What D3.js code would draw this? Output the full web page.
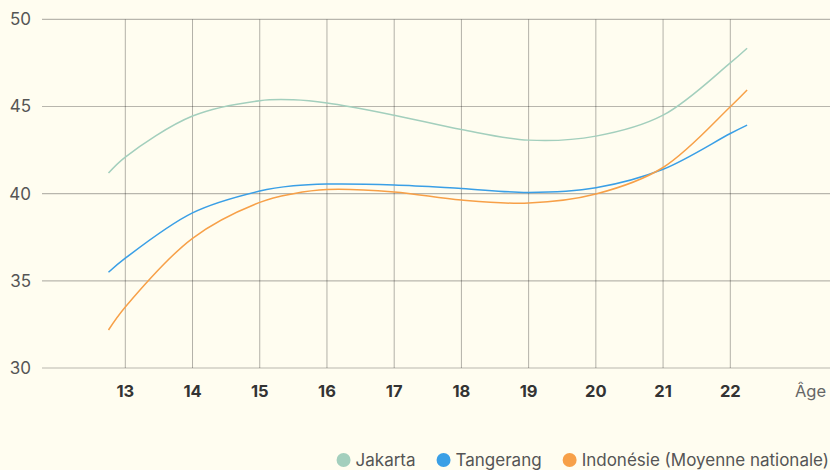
<!DOCTYPE html>
<html>
<head>
<meta charset="utf-8">
<script src="https://cdn.jsdelivr.net/npm/d3@7"></script>
<style>
  body { margin: 0; background: #fffdf0; }
  svg { display: block; font-family: Inter, "Noto Sans", sans-serif; }
</style>
</head>
<body>
<svg id="drawing_region"></svg>
<script>
// ages at which the curves are read
const ages = [12.75, 13, 14, 15, 15.5, 16, 17, 18, 19, 20, 21, 22, 22.25];
const jakarta   = [41.18, 42.1, 44.45, 45.33, 45.38, 45.2, 44.5, 43.68, 43.07, 43.3, 44.5, 47.5, 48.34];
const tangerang = [35.49, 36.3, 38.9, 40.15, 40.45, 40.55, 40.5, 40.3, 40.07, 40.34, 41.4, 43.45, 43.93];
const indonesie = [32.18, 33.5, 37.44, 39.5, 40.0, 40.24, 40.1, 39.63, 39.46, 39.98, 41.5, 44.98, 45.94];

const xticks = [13, 14, 15, 16, 17, 18, 19, 20, 21, 22];
const yticks = [30, 35, 40, 45, 50];

const series = [
    {name: 'Jakarta', values: jakarta, color: '#a3cfbd'},
    {name: 'Tangerang', values: tangerang, color: '#3a9fe6'},
    {name: 'Indonésie (Moyenne nationale)', values: indonesie, color: '#f7a048'}
];

const width = 830, height = 470;
const svg = d3.select('#drawing_region')
    .attr('width', width)
    .attr('height', height);

svg.append('rect')
    .attr('width', width).attr('height', height)
    .attr('fill', '#fffdf0');

const xscale = d3.scaleLinear().domain([13, 22]).range([125.3, 730.3]);
const yscale = d3.scaleLinear().domain([30, 50]).range([368, 19.3]);
const left = 42, right = 830;

// vertical grid
svg.append('g').selectAll('line')
    .data(xticks)
    .join('line')
    .attr('x1', d => xscale(d)).attr('x2', d => xscale(d))
    .attr('y1', yscale(50)).attr('y2', yscale(30))
    .attr('stroke', '#000').attr('stroke-opacity', 0.3).attr('stroke-width', 1);

// horizontal grid
svg.append('g').selectAll('line')
    .data(yticks)
    .join('line')
    .attr('x1', left).attr('x2', right)
    .attr('y1', d => yscale(d)).attr('y2', d => yscale(d))
    .attr('stroke', '#000').attr('stroke-opacity', 0.28).attr('stroke-width', 1.2);

// y labels
svg.append('g').selectAll('text')
    .data(yticks)
    .join('text')
    .attr('x', 31).attr('y', d => yscale(d))
    .attr('dy', '0.35em')
    .attr('text-anchor', 'end')
    .attr('font-size', 17)
    .attr('fill', '#555')
    .text(d => d);

// x labels
svg.append('g').selectAll('text')
    .data(xticks)
    .join('text')
    .attr('x', d => xscale(d)).attr('y', 391)
    .attr('dy', '0.35em')
    .attr('text-anchor', 'middle')
    .attr('font-size', 16.5)
    .attr('font-weight', 'bold')
    .attr('fill', '#333')
    .text(d => d);

svg.append('text')
    .attr('x', 826).attr('y', 391)
    .attr('dy', '0.35em')
    .attr('text-anchor', 'end')
    .attr('font-size', 16.5)
    .attr('fill', '#666')
    .text('Âge');

// curves
const line = d3.line()
    .x((d, i) => xscale(ages[i]))
    .y(d => yscale(d))
    .curve(d3.curveCatmullRom);

svg.append('g').selectAll('path')
    .data(series)
    .join('path')
    .attr('d', d => line(d.values))
    .attr('fill', 'none')
    .attr('stroke', d => d.color)
    .attr('stroke-width', 1.5);

// legend, right aligned
const legend = svg.append('g');
const items = legend.selectAll('g')
    .data(series)
    .join('g');
items.append('circle')
    .attr('r', 7).attr('cx', 7).attr('cy', 0)
    .attr('fill', d => d.color);
items.append('text')
    .attr('x', 19).attr('y', 0)
    .attr('dy', '0.35em')
    .attr('font-size', 17)
    .attr('fill', '#555')
    .text(d => d.name);
let xpos = 0;
items.each(function() {
    const g = d3.select(this);
    g.attr('transform', `translate(${xpos}, 0)`);
    xpos += 19 + g.select('text').node().getComputedTextLength() + 21;
});
const total = xpos - 21;
legend.attr('transform', `translate(${829 - total}, 460)`);
</script>
</body>
</html>
